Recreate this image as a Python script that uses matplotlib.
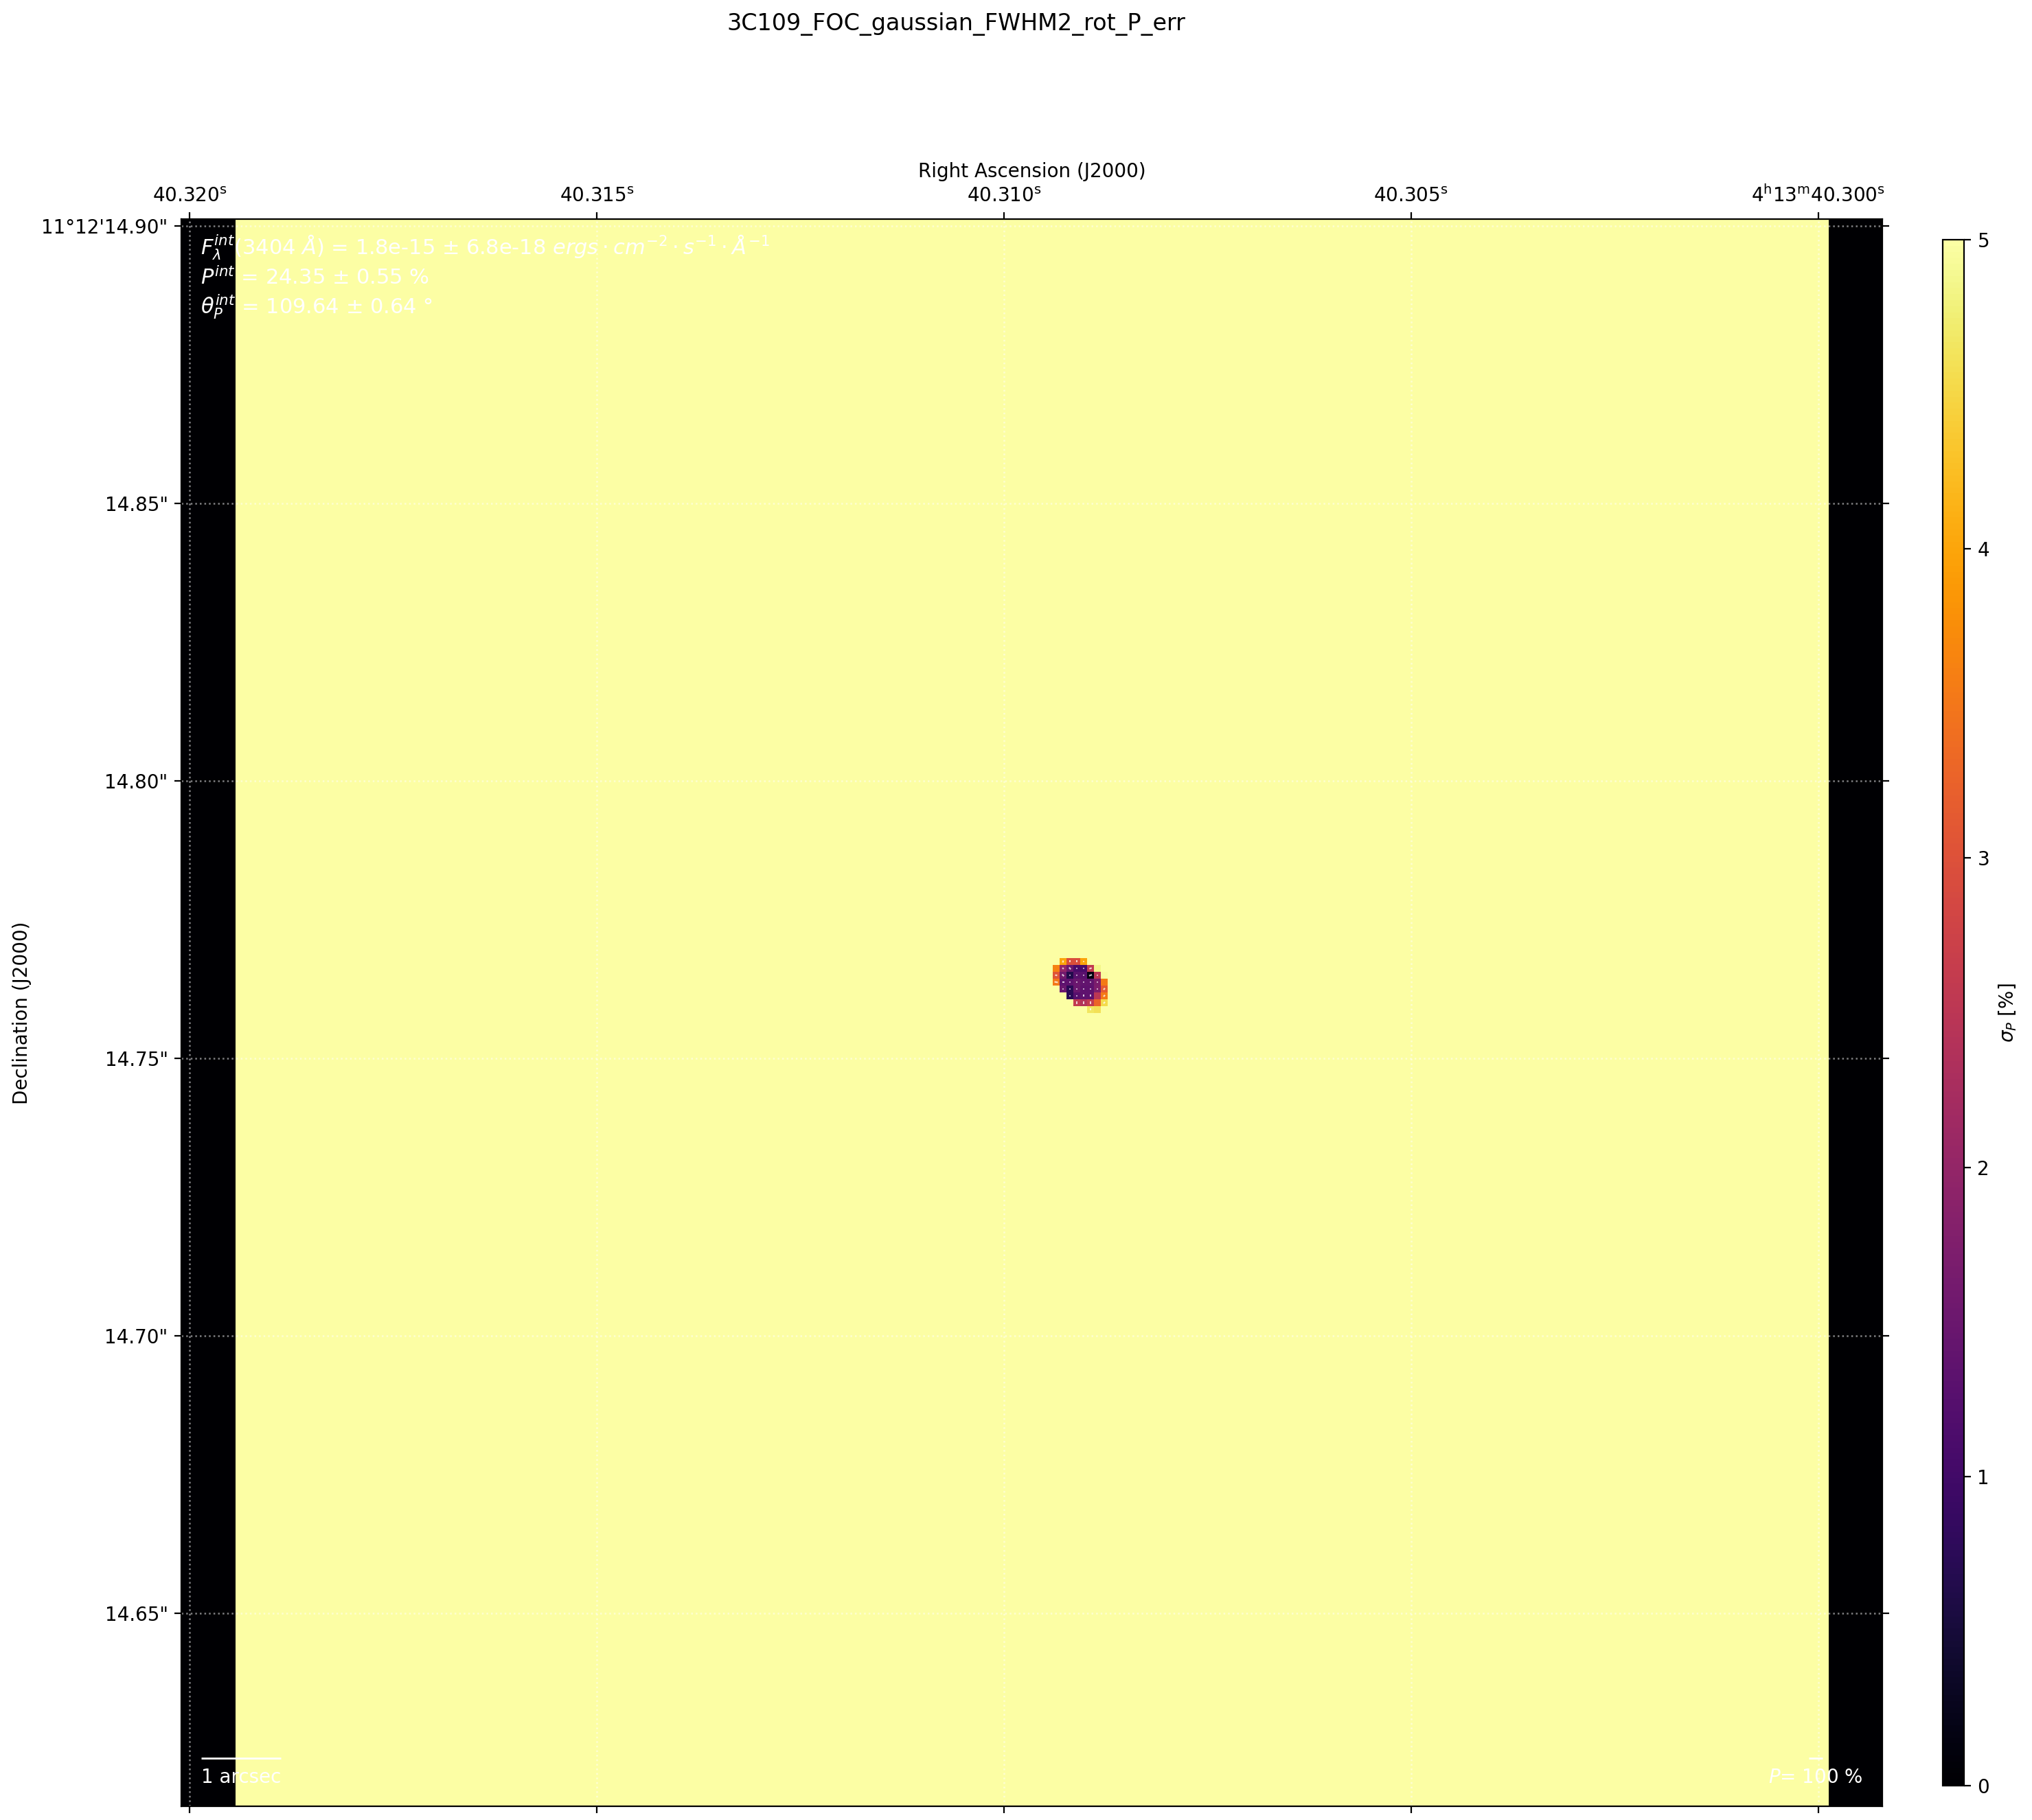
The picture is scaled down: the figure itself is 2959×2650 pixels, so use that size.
import numpy as np
import matplotlib
matplotlib.use("Agg")
import matplotlib.pyplot as plt

# ---------------- data ----------------
TITLE = "3C109_FOC_gaussian_FWHM2_rot_P_err"
CBAR_LABEL = r"$\sigma_P$ [%]"
XLABEL = "Right Ascension (J2000)"
YLABEL = "Declination (J2000)"

# image grid (pixels)
NX, NY = 248, 232
BG_VALUE = 50.0          # sigma_P where there is no signal (clipped to vmax)
EDGE_VALUE = 0.0         # outside the field of view
LEFT_EDGE_COLS = 8
RIGHT_EDGE_START = 240
VMIN, VMAX = 0, 5

# sigma_P [%] of the source region; rows listed from top (row 123) to bottom (row 116)
BLOB_COLS = [127, 128, 129, 130, 131, 132, 133, 134]
BLOB_ROWS = [123, 122, 121, 120, 119, 118, 117, 116]
BLOB_VALUES = [
    [None, 4.00, 2.95, 2.95, 4.00, None, None, None],
    [3.60, 2.00, 1.50, 1.10, 1.10, 2.60, 4.85, None],
    [3.05, 1.60, 0.65, 1.30, 1.30, 0.15, 2.50, 4.95],
    [3.50, 1.35, 1.35, 1.50, 1.40, 1.40, 1.70, 3.55],
    [None, 1.50, 0.75, 1.50, 1.35, 1.35, 1.75, 3.15],
    [None, None, 0.75, 1.25, 1.35, 1.35, 2.50, 3.55],
    [None, None, None, 2.60, 2.40, 2.60, 3.30, 4.55],
    [None, None, None, None, None, 4.65, 4.60, None],
]

# polarisation vectors (pixel col, pixel row, P [%], angle [deg E of N])
VEC_COL = [128, 129, 130, 131,
           128, 129, 130, 131, 132,
           127, 128, 129, 130, 131, 132, 133,
           127, 128, 129, 130, 131, 132, 133,
           128, 129, 130, 131, 132, 133, 134,
           129, 130, 131, 132, 134,
           130, 131, 132, 134,
           132]
VEC_ROW = [123] * 4 + [122] * 5 + [121] * 7 + [120] * 7 + [119] * 7 + [118] * 5 + [117] * 4 + [116]
VEC_P = [15, 15, 15, 10,
         12, 18, 8, 10, 18,
         15, 18, 10, 6, 10, 22, 6,
         25, 15, 6, 6, 6, 6, 6,
         8, 8, 8, 8, 8, 6, 15,
         8, 10, 15, 15, 15,
         18, 18, 18, 15,
         15]
VEC_THETA = [-10, 0, 0, 135,
             45, 40, 0, 135, 110,
             80, 45, 45, 0, 135, 110, 0,
             80, 90, 0, 0, 0, 0, 0,
             0, 0, 0, 0, 0, 0, 135,
             0, 0, 0, 0, 135,
             0, 0, 0, 135,
             0]
P_SCALE_PERCENT = 100     # length of reference vector
P_PER_PIXEL = 50          # 100 % -> 2 pixels
ARCSEC_PIXELS = 11.6      # 1 arcsec in pixels

# linear sky coordinates
CRPIX = (120.0, 116.0)
CRVAL_RA_S = 40.30999
CRVAL_DEC_AS = 14.75817
CDELT_RA_S = -8.432e-5
CDELT_DEC_AS = 1.2376e-3

RA_TICKS_S = [40.320, 40.315, 40.310, 40.305, 40.300]
RA_TICK_LABELS = [r"40.320$^{\mathrm{s}}$", r"40.315$^{\mathrm{s}}$", r"40.310$^{\mathrm{s}}$",
                  r"40.305$^{\mathrm{s}}$", r"4$^{\mathrm{h}}$13$^{\mathrm{m}}$40.300$^{\mathrm{s}}$"]
DEC_TICKS_AS = [14.90, 14.85, 14.80, 14.75, 14.70, 14.65]
DEC_TICK_LABELS = ["11°12'14.90\"", "14.85\"", "14.80\"", "14.75\"", "14.70\"", "14.65\""]

INFO_LINES = [
    r"$F_{\lambda}^{int}$(3404 $\AA$) = 1.8e-15 $\pm$ 6.8e-18 $ergs \cdot cm^{-2} \cdot s^{-1} \cdot \AA^{-1}$",
    r"$P^{int}$ = 24.35 $\pm$ 0.55 %",
    r"$\theta_{P}^{int}$ = 109.64 $\pm$ 0.64 °",
]

# ---------------- figure ----------------
W, H, DPI = 2959, 2650, 200
fig = plt.figure(figsize=(W / DPI, H / DPI), dpi=DPI)

ax = fig.add_axes([264 / W, (H - 2630) / H, 2477 / W, 2311 / H])
cax = fig.add_axes([2829 / W, (H - 2600) / H, 31 / W, 2251 / H])

img = np.full((NY, NX), BG_VALUE)
img[:, :LEFT_EDGE_COLS] = EDGE_VALUE
img[:, RIGHT_EDGE_START:] = EDGE_VALUE
for r, row in zip(BLOB_ROWS, BLOB_VALUES):
    for c, val in zip(BLOB_COLS, row):
        if val is not None:
            img[r, c] = val

im = ax.imshow(img, origin="lower", extent=(0, NX, 0, NY), cmap="inferno",
               vmin=VMIN, vmax=VMAX, interpolation="nearest", aspect="auto", zorder=0)

xlim = (0.1, 247.8)
ylim = (0.5, 231.6)
ax.set_xlim(*xlim)
ax.set_ylim(*ylim)

# vectors
vc = np.array(VEC_COL) + 0.5
vr = np.array(VEC_ROW) + 0.5
vp = np.array(VEC_P, dtype=float)
vt = np.deg2rad(np.array(VEC_THETA, dtype=float))
ax.quiver(vc, vr, -vp * np.sin(vt), vp * np.cos(vt), angles="xy", scale_units="xy",
          scale=P_PER_PIXEL, pivot="mid", headwidth=0, headlength=0, headaxislength=0,
          units="dots", width=2.2, color="white", alpha=0.75, zorder=3)

# ticks from linear sky coordinates
ra_pix = [CRPIX[0] + (ra - CRVAL_RA_S) / CDELT_RA_S for ra in RA_TICKS_S]
dec_pix = [CRPIX[1] + (d - CRVAL_DEC_AS) / CDELT_DEC_AS for d in DEC_TICKS_AS]
ax.set_xticks(ra_pix)
ax.set_xticklabels(RA_TICK_LABELS)
ax.set_yticks(dec_pix)
ax.set_yticklabels(DEC_TICK_LABELS)
ax.tick_params(axis="both", direction="out", top=True, bottom=True, left=True, right=True,
               labeltop=True, labelbottom=False, labelleft=True, labelright=False, labelsize=10)
ax.xaxis.set_label_position("top")
ax.set_xlabel(XLABEL, fontsize=10)
ax.set_ylabel(YLABEL, fontsize=10, va="center")
ax.yaxis.set_label_coords((32 - 264) / 2477, 0.5)
ax.grid(True, color="white", alpha=0.5, linestyle=":", linewidth=0.9)

# info text
info_y = [0.9779, 0.9589, 0.9403]
for line, yy in zip(INFO_LINES, info_y):
    ax.text(0.0113, yy, line, transform=ax.transAxes, color="white", fontsize=11,
            ha="left", va="baseline", zorder=5)

# scale bars
bar_v = ylim[0] + 7.0
txt_v = ylim[0] + 3.4
u0 = xlim[0] + 2.9
ax.plot([u0, u0 + ARCSEC_PIXELS], [bar_v, bar_v], color="white", lw=1.0, solid_capstyle="butt", zorder=5)
ax.text(u0 + ARCSEC_PIXELS / 2, txt_v, "1 arcsec", color="white", fontsize=10,
        ha="center", va="baseline", zorder=5)
pc = xlim[0] + 238.0
plen = P_SCALE_PERCENT / P_PER_PIXEL
ax.plot([pc - plen / 2, pc + plen / 2], [bar_v, bar_v], color="white", lw=1.0, solid_capstyle="butt", zorder=5)
ax.text(pc, txt_v, r"$P$= %d %%" % P_SCALE_PERCENT, color="white", fontsize=10,
        ha="center", va="baseline", zorder=5)

# colorbar
cb = fig.colorbar(im, cax=cax, ticks=[0, 1, 2, 3, 4, 5])
cb.set_label(CBAR_LABEL, fontsize=10)
cb.ax.tick_params(labelsize=10)

fig.text(1392 / W, 1 - 44 / H, TITLE, ha="center", va="baseline", fontsize=12)

fig.savefig("out.png", dpi=DPI)
